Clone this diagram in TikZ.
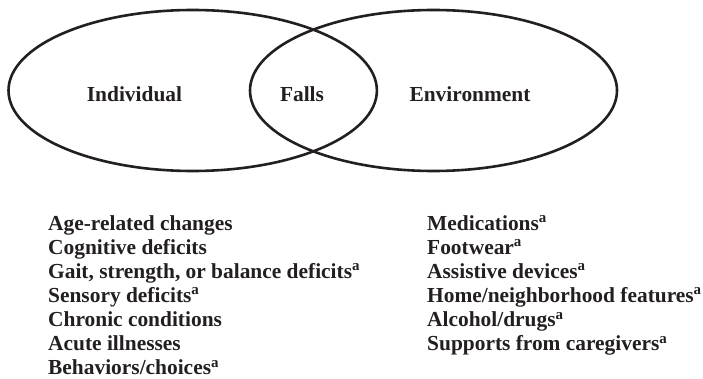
\documentclass[tikz,border=0pt]{standalone}
\usepackage{fontspec}
\setmainfont{Liberation Serif}
\definecolor{ink}{HTML}{231F20}
\newcommand{\supa}{\textsuperscript{a}}
\begin{document}
\begin{tikzpicture}[x=1pt,y=-1pt,
  ring/.style={draw=ink, line width=2.6pt},
  head/.style={font=\fontsize{21.4}{24}\selectfont\bfseries, text=ink,
               anchor=base, inner sep=0pt},
  item/.style={font=\fontsize{21.4}{24}\selectfont\bfseries, text=ink,
               anchor=base west, inner sep=0pt}]
  \useasboundingbox (0,0) rectangle (703,379);

  % the two overlapping sets
  \draw[ring] (192.7,90.5) ellipse [x radius=184.2, y radius=80.5];
  \draw[ring] (433.5,90.5) ellipse [x radius=183.5, y radius=80.5];

  % set labels
  \node[head] (individual)  at (134.5,102) {Individual};
  \node[head] (falls)       at (302,102)   {Falls};
  \node[head] (environment) at (470,102)   {Environment};

  % individual risk factors
  \foreach \t [count=\i] in {Age-related changes, Cognitive deficits,
      {Gait, strength, or balance deficits\supa}, Sensory deficits\supa,
      Chronic conditions, Acute illnesses, Behaviors/choices\supa}
    \node[item] (indiv\i) at (48,{230+24.15*(\i-1)}) {\t};

  % environmental risk factors
  \foreach \t [count=\i] in {Medications\supa, Footwear\supa,
      Assistive devices\supa, Home/neighborhood features\supa,
      Alcohol/drugs\supa, Supports from caregivers\supa}
    \node[item] (env\i) at (427,{230+24.15*(\i-1)}) {\t};
\end{tikzpicture}
\end{document}
